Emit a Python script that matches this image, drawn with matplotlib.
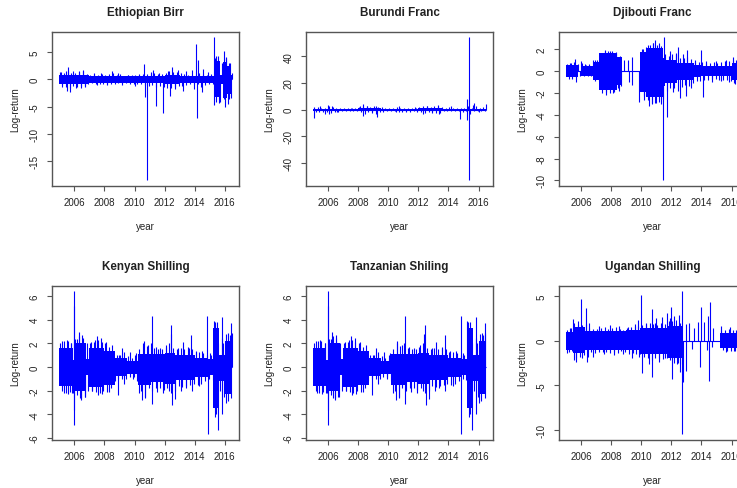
import numpy as np
import matplotlib
matplotlib.use("Agg")
import matplotlib.pyplot as plt
from matplotlib.transforms import ScaledTranslation

plt.rcParams['font.family'] = ['Liberation Sans', 'DejaVu Sans']

TITLES = ["Ethiopian Birr", "Burundi Franc", "Djibouti Franc",
          "Kenyan Shilling", "Tanzanian Shiling", "Ugandan Shilling"]
YEAR_TICKS = [2006, 2008, 2010, 2012, 2014, 2016]

# quarter mid-points, 2005Q1 .. 2016Q2
QTR_t = np.arange(2005.125, 2016.5, 0.25)

# ---- Ethiopian Birr ----
# solid core of the return band (step segments)
ETB_seg_t = [2005.0, 2007.0, 2010.0, 2012.0, 2013.0, 2015.25, 2015.7, 2015.85, 2016.15,
             2016.4, 2016.5]
ETB_hi = [0.75, 0.6, 0.6, 0.9, 0.6, 3.3, 0.8, 3.2, 2.4, 0.8]
ETB_lo = [-0.75, -0.6, -0.6, -0.9, -0.6, -3.3, -0.8, -3.4, -2.6, -0.8]
# typical quarterly extremes
ETB_q_up = [1.3, 1.2, 1.5, 1.2, 1.2, 1.4, 1.5, 1.0, 0.8, 1.0, 0.9, 1.0,
            0.9, 1.0, 1.1, 0.8, 1.0, 0.7, 0.8, 0.8, 0.9, 0.8, 1.0, 1.0,
            1.0, 1.2, 1.0, 1.0, 1.2, 1.5, 1.4, 1.3, 1.2, 1.0, 0.8, 0.9,
            0.8, 1.2, 1.0, 0.8, 0.8, 4.0, 4.3, 3.0, 4.2, 3.0]
ETB_q_dn = [-1.0, -1.3, -1.5, -1.2, -1.3, -1.2, -1.4, -0.9, -0.6, -0.8, -0.9, -0.8,
            -0.8, -0.9, -0.9, -0.7, -0.6, -0.7, -0.8, -0.8, -0.8, -0.9, -1.0, -1.2,
            -1.0, -1.4, -1.2, -1.4, -1.5, -1.6, -1.4, -1.2, -1.2, -1.1, -0.8, -0.8,
            -0.9, -1.4, -1.0, -0.8, -0.8, -4.2, -4.2, -3.5, -4.5, -3.4]
# isolated spikes
ETB_spk_t = [2005.1, 2005.2, 2005.45, 2005.5, 2005.6, 2005.7, 2005.9, 2006.1, 2006.3,
             2006.45, 2006.6, 2006.7, 2007.3, 2007.5, 2007.8, 2008.2, 2008.5, 2008.9,
             2009.2, 2009.6, 2010.0, 2010.3, 2010.66, 2010.67, 2010.83, 2011.1, 2011.25,
             2011.41, 2011.6, 2011.9, 2012.2, 2012.35, 2012.5, 2012.7, 2012.9, 2013.2,
             2013.4, 2013.8, 2013.95, 2014.1, 2014.12, 2014.22, 2014.45, 2014.52, 2014.9,
             2015.05, 2015.25, 2015.27, 2015.4, 2015.6, 2015.95, 2015.98, 2016.1, 2016.25,
             2016.3, 2016.45]
ETB_spk_v = [1.4, -1.3, 1.6, -2.2, 2.3, -2.3, 1.5, -1.5, 1.6, -1.6, 1.8, -1.2, 1.2, -1.0,
             1.2, -1.0, 1.5, 1.2, -1.0, 0.9, -1.2, 1.0, 2.9, -3.2, -18.5, 1.3, 1.7, -4.9,
             1.2, -6.2, 1.6, -3.0, 2.2, -1.8, 1.7, -2.2, 1.5, 1.8, -1.8, 6.5, -7.0, 3.5,
             -2.3, 2.0, 1.4, 1.0, 7.7, -4.6, 4.3, -4.3, 5.2, -5.1, 3.9, -3.5, 3.0, 1.2]

# ---- Burundi Franc ----
BIF_seg_t = [2005.0, 2008.0, 2009.5, 2012.0, 2013.6, 2016.5]
BIF_hi = [0.8, 1.2, 0.7, 1.2, 0.6]
BIF_lo = [-0.8, -1.2, -0.7, -1.2, -0.6]
BIF_q_up = [2.0, 2.0, 1.5, 1.5, 3.0, 2.0, 1.5, 1.5, 1.0, 1.0, 1.0, 1.0,
            2.0, 3.0, 2.5, 2.0, 2.5, 2.0, 1.5, 1.5, 1.0, 1.0, 2.0, 1.5,
            1.0, 1.5, 1.0, 1.5, 2.0, 2.5, 2.5, 2.0, 2.5, 3.0, 1.5, 1.0,
            2.0, 1.0, 1.0, 1.0, 1.5, 3.0, 1.5, 3.0, 1.5, 2.0]
BIF_q_dn = [-2.0, -1.5, -2.0, -1.5, -2.5, -2.0, -1.5, -1.0, -1.0, -1.0, -0.8, -1.0,
            -1.5, -3.0, -2.0, -1.5, -3.0, -2.0, -1.5, -1.0, -1.0, -1.0, -1.5, -1.5,
            -1.0, -1.5, -1.0, -1.5, -2.0, -2.5, -2.0, -2.0, -2.5, -2.5, -1.0, -1.0,
            -1.0, -1.0, -1.0, -2.0, -1.0, -3.0, -1.0, -1.0, -1.0, -1.0]
BIF_spk_t = [2005.05, 2005.1, 2005.5, 2005.8, 2006.0, 2006.05, 2006.3, 2006.6, 2007.5,
             2008.1, 2008.3, 2008.32, 2008.6, 2008.9, 2009.2, 2009.25, 2009.6, 2010.5,
             2010.7, 2011.2, 2011.8, 2012.3, 2012.6, 2012.9, 2013.3, 2013.4, 2013.6,
             2014.2, 2014.8, 2015.2, 2015.22, 2015.35, 2015.37, 2015.6, 2015.7, 2016.0,
             2016.48]
BIF_spk_v = [-6.0, 1.5, 2.5, -3.0, 3.5, -3.0, 2.5, -2.0, 1.5, 2.5, 4.2, -4.5, 2.8, -2.5,
             3.0, -5.5, 2.0, -2.0, 3.0, -2.0, 2.0, -3.0, 3.0, -2.5, 3.5, -3.5, 2.0, 2.5,
             -6.8, 8.0, -8.0, 54.0, -53.0, 3.5, 5.0, -1.5, 4.0]

# ---- Djibouti Franc ----
DJF_seg_t = [2005.0, 2005.78, 2006.0, 2006.8, 2007.2, 2008.4, 2008.7, 2009.9, 2010.3,
             2011.45, 2011.6, 2012.4, 2013.5, 2014.0, 2016.0, 2016.5]
DJF_hi = [0.55, 0.0, 0.4, 0.85, 1.65, 1.3, 0.0, 1.7, 2.1, 1.2, 1.0, 0.75, 0.5, 0.45, 0.7]
DJF_lo = [-0.6, 0.0, -0.45, -0.8, -1.75, -1.3, 0.0, -1.9, -2.4, -1.4, -1.1, -0.85, -0.6,
          -0.45, -0.8]
DJF_q_up = [0.6, 0.7, 0.8, 0.6, 0.7, 0.5, 0.5, 1.0, 1.0, 1.6, 1.8, 1.8,
            1.8, 1.6, 1.4, 0.0, 0.0, 0.0, 0.0, 0.0, 2.0, 2.2, 2.4, 2.5,
            2.4, 2.3, 1.5, 1.4, 1.5, 1.5, 1.2, 1.2, 1.3, 1.1, 0.8, 0.8,
            0.8, 0.7, 0.7, 0.8, 0.7, 0.8, 0.9, 0.9, 1.0, 1.0]
DJF_q_dn = [-0.7, -0.7, -0.6, -0.5, -0.5, -0.5, -0.5, -0.9, -0.9, -1.7, -1.9, -2.0,
            -1.9, -1.6, -1.4, 0.0, 0.0, 0.0, 0.0, 0.0, -2.3, -2.7, -2.9, -2.9,
            -2.8, -2.6, -1.8, -1.6, -1.6, -1.8, -1.5, -1.3, -1.4, -1.1, -0.9, -0.9,
            -0.8, -0.8, -0.7, -0.7, -0.8, -0.8, -0.8, -0.9, -1.1, -1.0]
DJF_spk_t = [2005.3, 2005.6, 2005.7, 2006.02, 2006.3, 2006.5, 2006.95, 2007.4, 2007.6,
             2007.65, 2007.9, 2008.1, 2008.3, 2008.5, 2008.85, 2009.15, 2009.16, 2009.4,
             2009.42, 2009.85, 2010.1, 2010.2, 2010.45, 2010.5, 2010.7, 2010.8, 2010.9,
             2011.0, 2011.2, 2011.3, 2011.45, 2011.5, 2011.7, 2011.9, 2012.1, 2012.3,
             2012.45, 2012.6, 2012.8, 2013.0, 2013.07, 2013.3, 2013.6, 2013.95, 2014.1,
             2014.3, 2014.7, 2015.0, 2015.3, 2015.6, 2015.8, 2016.1, 2016.2, 2016.42]
DJF_spk_v = [0.7, 1.1, -1.0, 0.9, 0.6, 0.6, 1.0, -2.0, 1.9, -2.2, 1.8, -2.0, 1.7, -1.8,
             1.0, 1.0, -1.0, 1.3, -1.3, -2.8, 2.0, -2.7, 2.4, -3.2, -3.0, 2.5, 2.8, -2.9,
             2.5, -3.0, -10.0, 3.05, -4.2, 1.8, -1.9, 1.6, 2.2, -2.5, 1.5, -2.3, 1.9,
             -1.6, 1.0, 1.9, -2.4, 0.9, -1.0, 0.9, -0.9, 1.0, -1.0, 1.3, -1.2, 3.0]

# ---- Kenyan Shilling ----
KES_seg_t = [2005.0, 2005.9, 2006.0, 2006.8, 2007.0, 2008.0, 2008.7, 2009.5, 2010.2,
             2011.1, 2012.0, 2012.7, 2014.0, 2014.9, 2015.2, 2015.6, 2016.0, 2016.5]
KES_hi = [1.6, 0.6, 2.0, 0.7, 1.6, 1.4, 0.75, 0.55, 1.1, 1.1, 1.2, 1.0, 0.8, 0.7, 3.3,
          1.0, 2.2]
KES_lo = [-1.6, -0.6, -2.0, -0.7, -1.7, -1.5, -0.75, -0.55, -1.5, -1.3, -1.4, -1.1, -0.8,
          -0.7, -3.5, -1.2, -2.3]
KES_q_up = [2.0, 2.2, 2.2, 2.0, 2.4, 2.6, 2.5, 2.0, 2.0, 2.1, 2.3, 2.1,
            2.0, 1.7, 1.2, 1.0, 1.0, 1.3, 0.9, 0.8, 1.0, 1.5, 2.0, 1.8,
            2.0, 1.6, 1.5, 1.5, 1.7, 2.0, 1.6, 1.5, 1.6, 1.5, 1.7, 1.5,
            1.3, 1.3, 1.2, 1.0, 1.0, 3.8, 2.0, 2.5, 2.8, 2.7]
KES_q_dn = [-2.0, -2.2, -2.1, -2.2, -2.4, -2.6, -2.5, -2.0, -2.0, -2.1, -2.2, -2.0,
            -2.1, -1.8, -1.2, -1.0, -1.0, -1.0, -0.8, -0.8, -1.2, -2.0, -2.5, -1.8,
            -2.0, -1.8, -1.8, -1.9, -1.8, -2.2, -2.0, -1.6, -1.7, -1.6, -1.5, -1.4,
            -1.5, -1.4, -1.2, -1.0, -1.1, -4.0, -2.0, -2.5, -2.9, -2.6]
KES_spk_t = [2005.2, 2005.3, 2005.5, 2005.6, 2005.8, 2005.85, 2005.97, 2005.98, 2006.0,
             2006.01, 2006.2, 2006.3, 2006.35, 2006.45, 2006.5, 2006.7, 2007.1, 2007.2,
             2007.4, 2007.5, 2007.6, 2007.8, 2007.85, 2008.1, 2008.3, 2008.5, 2008.9,
             2009.0, 2009.2, 2009.3, 2009.7, 2009.9, 2010.1, 2010.3, 2010.5, 2010.6,
             2010.7, 2010.9, 2011.13, 2011.14, 2011.4, 2011.5, 2011.7, 2011.9, 2012.1,
             2012.3, 2012.4, 2012.45, 2012.5, 2012.7, 2012.9, 2013.1, 2013.2, 2013.4,
             2013.6, 2013.75, 2013.8, 2014.1, 2014.3, 2014.5, 2014.84, 2014.85, 2015.0,
             2015.25, 2015.35, 2015.45, 2015.55, 2015.8, 2015.82, 2015.9, 2016.05,
             2016.2, 2016.35, 2016.4, 2016.45]
KES_spk_v = [2.2, -2.2, 2.3, -2.3, 2.0, -2.2, -3.6, 5.2, 6.4, -4.9, 2.4, 3.0, -2.6, -2.8,
             2.7, -2.5, 2.1, -2.0, 2.3, 2.6, -2.4, 2.5, -2.3, 2.1, -2.1, 1.9, -2.4, 1.0,
             1.6, -1.4, 1.3, -1.0, 1.2, -2.2, -2.8, 2.2, -2.6, 1.9, 4.3, -3.1, 1.7, -2.1,
             1.6, -2.2, 1.9, -2.0, 2.8, 3.6, -3.2, -2.7, 1.6, -2.0, 2.1, -1.8, 1.6, 2.7,
             -2.0, 1.4, -1.6, 1.4, 4.3, -5.7, 1.2, 3.9, -4.2, 3.8, -5.3, 4.2, -4.0, 2.0,
             -3.0, 2.9, -2.2, 3.7, 2.9]

# ---- Tanzanian Shilling ----
TZS_seg_t = [2005.0, 2005.9, 2006.0, 2006.8, 2007.0, 2008.0, 2008.7, 2009.5, 2010.2,
             2011.1, 2012.0, 2012.7, 2014.0, 2014.9, 2015.2, 2015.6, 2016.0, 2016.5]
TZS_hi = [1.6, 0.6, 2.0, 0.7, 1.6, 1.4, 0.75, 0.55, 1.1, 1.1, 1.2, 1.0, 0.8, 0.7, 3.3,
          1.0, 2.2]
TZS_lo = [-1.6, -0.6, -2.0, -0.7, -1.7, -1.5, -0.75, -0.55, -1.5, -1.3, -1.4, -1.1, -0.8,
          -0.7, -3.5, -1.2, -2.3]
TZS_q_up = [2.0, 2.2, 2.2, 2.0, 2.4, 2.6, 2.5, 2.0, 2.0, 2.1, 2.3, 2.1,
            2.0, 1.7, 1.2, 1.0, 1.0, 1.3, 0.9, 0.8, 1.0, 1.5, 2.0, 1.8,
            2.0, 1.6, 1.5, 1.5, 1.7, 2.0, 1.6, 1.5, 1.6, 1.5, 1.7, 1.5,
            1.3, 1.3, 1.2, 1.0, 1.0, 3.8, 2.0, 2.5, 2.8, 2.7]
TZS_q_dn = [-2.0, -2.2, -2.1, -2.2, -2.4, -2.6, -2.5, -2.0, -2.0, -2.1, -2.2, -2.0,
            -2.1, -1.8, -1.2, -1.0, -1.0, -1.0, -0.8, -0.8, -1.2, -2.0, -2.5, -1.8,
            -2.0, -1.8, -1.8, -1.9, -1.8, -2.2, -2.0, -1.6, -1.7, -1.6, -1.5, -1.4,
            -1.5, -1.4, -1.2, -1.0, -1.1, -4.0, -2.0, -2.5, -2.9, -2.6]
TZS_spk_t = [2005.2, 2005.3, 2005.5, 2005.6, 2005.8, 2005.85, 2005.97, 2005.98, 2006.0,
             2006.01, 2006.2, 2006.3, 2006.35, 2006.45, 2006.5, 2006.7, 2007.1, 2007.2,
             2007.4, 2007.5, 2007.6, 2007.8, 2007.85, 2008.1, 2008.3, 2008.5, 2008.9,
             2009.0, 2009.2, 2009.3, 2009.7, 2009.9, 2010.1, 2010.3, 2010.5, 2010.6,
             2010.7, 2010.9, 2011.13, 2011.14, 2011.4, 2011.5, 2011.7, 2011.9, 2012.1,
             2012.3, 2012.4, 2012.45, 2012.5, 2012.7, 2012.9, 2013.1, 2013.2, 2013.4,
             2013.6, 2013.75, 2013.8, 2014.1, 2014.3, 2014.5, 2014.84, 2014.85, 2015.0,
             2015.25, 2015.35, 2015.45, 2015.55, 2015.8, 2015.82, 2015.9, 2016.05,
             2016.2, 2016.35, 2016.4, 2016.45]
TZS_spk_v = [2.2, -2.2, 2.3, -2.3, 2.0, -2.2, -3.6, 5.2, 6.4, -4.9, 2.4, 3.0, -2.6, -2.8,
             2.7, -2.5, 2.1, -2.0, 2.3, 2.6, -2.4, 2.5, -2.3, 2.1, -2.1, 1.9, -2.4, 1.0,
             1.6, -1.4, 1.3, -1.0, 1.2, -2.2, -2.8, 2.2, -2.6, 1.9, 4.3, -3.1, 1.7, -2.1,
             1.6, -2.2, 1.9, -2.0, 2.8, 3.6, -3.2, -2.7, 1.6, -2.0, 2.1, -1.8, 1.6, 2.7,
             -2.0, 1.4, -1.6, 1.4, 4.3, -5.7, 1.2, 3.9, -4.2, 3.8, -5.3, 4.2, -4.0, 2.0,
             -3.0, 2.9, -2.2, 3.7, 2.9]

# ---- Ugandan Shilling ----
UGX_seg_t = [2005.0, 2005.5, 2006.3, 2009.0, 2009.9, 2011.8, 2012.75, 2015.2, 2016.5]
UGX_hi = [1.0, 1.5, 1.1, 1.15, 1.4, 1.6, 0.0, 0.8]
UGX_lo = [-1.0, -1.4, -1.1, -1.1, -1.5, -1.9, 0.0, -0.8]
UGX_q_up = [1.2, 1.4, 2.0, 1.8, 1.8, 1.9, 1.4, 1.3, 1.3, 1.4, 1.5, 1.3,
            1.4, 1.5, 1.3, 1.2, 1.4, 1.5, 1.6, 1.6, 1.8, 1.9, 2.0, 1.9,
            1.8, 2.0, 1.9, 2.2, 2.2, 2.3, 2.0, 0.0, 0.0, 0.0, 0.0, 0.0,
            0.0, 0.0, 0.0, 0.0, 0.0, 1.2, 1.2, 1.3, 1.2, 1.2]
UGX_q_dn = [-1.3, -1.2, -2.0, -1.8, -1.6, -1.8, -1.3, -1.4, -1.3, -1.3, -1.3, -1.4,
            -1.3, -1.4, -1.2, -1.3, -1.5, -1.4, -1.5, -1.5, -1.8, -2.0, -2.2, -2.0,
            -2.0, -2.1, -1.9, -2.2, -2.5, -2.5, -2.6, 0.0, 0.0, 0.0, 0.0, 0.0,
            0.0, 0.0, 0.0, 0.0, 0.0, -1.1, -1.2, -1.2, -1.2, -1.2]
UGX_spk_t = [2005.1, 2005.3, 2005.5, 2005.55, 2005.7, 2005.8, 2006.0, 2006.1, 2006.35,
             2006.4, 2006.5, 2006.8, 2007.2, 2007.5, 2007.9, 2008.2, 2008.5, 2008.8,
             2009.1, 2009.4, 2009.6, 2009.8, 2009.85, 2010.0, 2010.02, 2010.3, 2010.5,
             2010.7, 2010.72, 2010.9, 2011.0, 2011.2, 2011.4, 2011.6, 2011.7, 2011.9,
             2012.0, 2012.02, 2012.2, 2012.4, 2012.5, 2012.6, 2012.7, 2012.71, 2012.75,
             2012.95, 2013.0, 2013.2, 2013.35, 2013.5, 2013.75, 2013.9, 2014.0, 2014.2,
             2014.35, 2014.45, 2014.5, 2014.55, 2014.7, 2014.8, 2015.3, 2015.6, 2015.9,
             2016.2, 2016.4]
UGX_spk_v = [-1.4, 1.4, 2.4, -2.2, -2.4, 2.2, 4.6, -2.0, 3.7, -2.4, 2.0, -1.8, 1.6, -1.5,
             1.8, -1.6, 1.6, -1.5, 1.5, -1.9, 1.9, 2.3, -1.8, 5.1, -3.6, 2.0, -2.6, 3.5,
             -4.1, 2.0, 2.5, -2.4, 2.6, -2.0, 3.1, 2.5, 3.8, -4.3, 2.8, -2.6, 2.9, -3.5,
             5.5, -10.5, -4.6, 1.9, -3.4, 2.0, -0.9, 1.4, 2.1, -2.9, 3.8, 2.1, -1.0, 2.7,
             -4.5, 4.35, -0.7, 1.4, 1.6, -1.3, 1.5, -1.2, 1.3]

Y_TICKS = [
    [-15, -10, -5, 0, 5],
    [-40, -20, 0, 20, 40],
    [-10, -8, -6, -4, -2, 0, 2],
    [-6, -4, -2, 0, 2, 4, 6],
    [-6, -4, -2, 0, 2, 4, 6],
    [-10, -5, 0, 5],
]

SERIES = [
    (ETB_seg_t, ETB_hi, ETB_lo, ETB_q_up, ETB_q_dn, ETB_spk_t, ETB_spk_v),
    (BIF_seg_t, BIF_hi, BIF_lo, BIF_q_up, BIF_q_dn, BIF_spk_t, BIF_spk_v),
    (DJF_seg_t, DJF_hi, DJF_lo, DJF_q_up, DJF_q_dn, DJF_spk_t, DJF_spk_v),
    (KES_seg_t, KES_hi, KES_lo, KES_q_up, KES_q_dn, KES_spk_t, KES_spk_v),
    (TZS_seg_t, TZS_hi, TZS_lo, TZS_q_up, TZS_q_dn, TZS_spk_t, TZS_spk_v),
    (UGX_seg_t, UGX_hi, UGX_lo, UGX_q_up, UGX_q_dn, UGX_spk_t, UGX_spk_v),
]

# ---- layout (pixels) ----
W, H = 737, 489
DPI = 100
COL_LEFT = [52.3, 306.0, 559.0]
ROW_TOP = [32.7, 286.7]
AX_W, AX_H = 187.0, 154.5
Q_SHIFT = 0.06   # up/down extremes drawn slightly apart within a quarter
LW = 0.8

BLUE = "#0000ff"
FRAME = "#555555"
TEXT = "#222222"

fig = plt.figure(figsize=(W / DPI, H / DPI), dpi=DPI)
fig.patch.set_facecolor("white")


def px(dx, dy):
    return ScaledTranslation(dx / DPI, dy / DPI, fig.dpi_scale_trans)


for i, (seg_t, hi, lo, q_up, q_dn, spk_t, spk_v) in enumerate(SERIES):
    row, col = divmod(i, 3)
    left = COL_LEFT[col]
    top = ROW_TOP[row]
    ax = fig.add_axes([left / W, 1 - (top + AX_H) / H, AX_W / W, AX_H / H])

    seg_t = np.asarray(seg_t)
    hi_s = np.append(hi, hi[-1])
    lo_s = np.append(lo, lo[-1])

    # zero baseline of the return series
    ax.hlines(0, seg_t[0], seg_t[-1], colors=BLUE, lw=LW)
    # dense solid core
    ax.fill_between(seg_t, lo_s, hi_s, step="post", color=BLUE, lw=0)
    # quarterly extremes
    ax.vlines(QTR_t - Q_SHIFT, 0, q_up, colors=BLUE, lw=LW)
    ax.vlines(QTR_t + Q_SHIFT, q_dn, 0, colors=BLUE, lw=LW)
    # isolated spikes
    ax.vlines(spk_t, 0, spk_v, colors=BLUE, lw=LW)

    # R-style 4% padding around the data range
    vals = np.concatenate([hi, lo, q_up, q_dn, spk_v])
    ymin, ymax = vals.min(), vals.max()
    ypad = 0.04 * (ymax - ymin)
    ax.set_ylim(ymin - ypad, ymax + ypad)
    x0, x1 = seg_t[0], seg_t[-1]
    xpad = 0.04 * (x1 - x0)
    ax.set_xlim(x0 - xpad, x1 + xpad)

    ax.set_xticks(YEAR_TICKS)
    ax.set_xticklabels([str(y) for y in YEAR_TICKS])
    ax.set_yticks(Y_TICKS[i])
    ax.set_yticklabels([str(v) for v in Y_TICKS[i]], rotation=90, va="center")

    for sp in ax.spines.values():
        sp.set_color(FRAME)
        sp.set_linewidth(1.0)
    ax.tick_params(axis="both", direction="out", length=3.6, width=0.8,
                   color=FRAME, labelcolor=TEXT, labelsize=7)
    ax.tick_params(axis="x", pad=4.0)
    ax.tick_params(axis="y", pad=5.5)

    ax.text(0.5, 1.0, TITLES[i], transform=ax.transAxes + px(0, 19.4),
            ha="center", va="center", fontsize=8.4, fontweight="bold", color=TEXT)
    ax.text(0.5, 0.0, "year", transform=ax.transAxes + px(0, -39.4),
            ha="center", va="center", fontsize=7, color=TEXT)
    ax.text(0.0, 0.5, "Log-return", transform=ax.transAxes + px(-36.6, 0),
            ha="center", va="center", rotation=90, fontsize=7, color=TEXT)

fig.savefig("out.png", dpi=DPI, facecolor="white")
